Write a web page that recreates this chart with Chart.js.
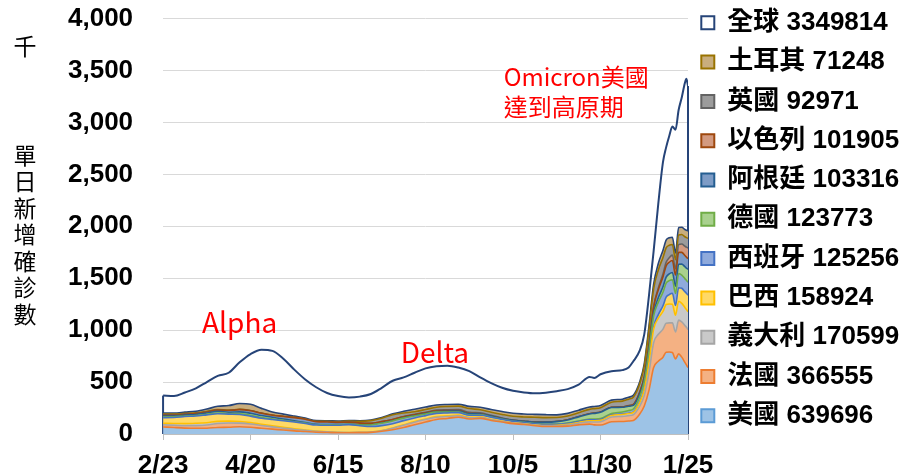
<!DOCTYPE html>
<html lang="zh-Hant">
<head>
<meta charset="utf-8">
<script src="https://cdn.jsdelivr.net/npm/chart.js@4.4.1/dist/chart.umd.min.js"></script>
<style>
  html, body { margin: 0; padding: 0; background: #fff; }
  #wrap { width: 904px; height: 476px; position: relative; }
</style>
</head>
<body>
<div id="wrap"><canvas id="chart"></canvas></div>
<script>
// days since 2021-02-23, values in thousands (7-day average)
const days = [0,7,14,21,28,35,42,49,56,63,70,77,84,91,98,105,112,119,126,133,140,147,154,161,168,175,182,189,196,203,210,217,224,231,238,245,252,259,266,273,276,280,287,294,298,301,305,308,311,314,317,320,322,324,326,328,330,332,334,335,336];

const tickDays = [0, 56, 112, 168, 224, 280, 336];
const tickLabels = ["2/23", "4/20", "6/15", "8/10", "10/5", "11/30", "1/25"];

const names = ["美國", "法國", "義大利", "巴西", "西班牙", "德國", "阿根廷", "以色列", "英國", "土耳其", "全球"];
const latest = [639696, 366555, 170599, 158924, 125256, 123773, 103316, 101905, 92971, 71248, 3349814];

const usa = [68,62,57,55,56,63,65,70,65,55,47,38,30,24,17,15,12,11.5,13,16,26,41,63,90,115,140,150,162,145,150,130,115,100,92,80,72,72,76,88,95,88,86,118,120,125,130,190,270,420,640,700,740,787,790,785,723,772,740,690,665,640];
const france = [21,22,23,26,31,38,41,35,32,27,22,18,14,11,8,5,3.5,2.5,2.2,3,5,14,21,24,24,22,18,14,10,8,6,5,4.5,4.5,5,6,7.5,10,15,22,27,32,45,50,52,55,75,100,170,240,260,270,280,280,285,260,325,340,355,362,367];
const italy = [14,17,20,22,22,21,18,15,13,12,10,8.5,6,4,3,2,1.4,0.9,0.8,0.9,1.8,3.5,5,5.5,6,6.5,6.5,6,5,4.5,3.5,3,3,2.8,3,4,4.5,6.5,8.5,10.5,12,13,15,18,20,22,35,55,95,130,155,170,180,182,180,160,182,178,174,172,171];
const brazil = [55,58,68,70,75,73,67,68,62,58,60,63,65,62,58,62,68,75,63,52,48,40,40,35,32,30,28,24,20,18,22,16,14,11,11,12,10,10,9,9,9,8,6,4,3.5,3.5,4,6,12,20,35,55,70,90,105,95,130,145,152,156,159];
const spain = [7,6,5,4.5,5,5.5,5,7.5,7.5,6.5,5.5,4.5,3.5,3.5,3.5,3.5,3.5,3.8,8,15,23,27,24,19,16,12,9,6,5,3.5,2.5,2,1.8,1.7,1.8,2,2.3,2.8,4.5,6.5,8,10,14,20,25,30,50,70,95,105,120,130,135,135,130,115,135,128,125,124,125];
const germany = [8,8.5,9,11,14,17,14,18,20,19,16,12,9,6,4,2.5,1.5,0.8,0.6,0.7,1,1.5,2,2.5,3.5,5.5,8,9.5,10,9,8,7.5,8,10,13,18,23,30,40,50,55,60,57,45,42,35,28,24,26,30,42,52,58,65,70,70,90,105,115,119,124];
const argentina = [7,7,7,7.5,9,12,16,21,24,22,20,25,30,31,25,26,22,20,17,15,14,12,12,10,8,7,5.5,4,3,2,1.6,1.3,1.2,1.1,1.2,1.3,1.5,1.7,1.8,1.9,2,2,2.5,3.5,5,8,15,25,40,55,78,98,108,112,115,108,116,113,108,105,103];
const israel = [3.8,3.5,3,2,1,0.6,0.3,0.2,0.15,0.1,0.08,0.05,0.04,0.03,0.02,0.02,0.05,0.2,0.3,0.5,0.7,1.2,2.2,3.5,5,7,8.5,9.5,10,8.5,6,4.5,3,2,1.3,0.8,0.6,0.5,0.5,0.5,0.5,0.6,0.6,0.8,1,1.3,1.8,3,5,8,15,25,35,43,52,58,73,80,90,96,102];
const uk = [9.5,7.5,6.5,5.5,5.5,4.5,3.5,2.8,2.5,2.2,2.1,2.2,2.3,2.8,3.8,6,8,10,17,26,33,45,33,25,26,28,32,33,37,30,30,34,35,39,45,42,37,35,38,42,43,42,48,55,62,70,80,100,140,170,175,160,140,120,103,90,94,92,90,92,93];
const turkey = [8.5,10,12,16,22,32,44,56,60,45,30,20,12,9,7,6,5.5,5.2,5,5.5,7,9,16,24,24,21,19,19,21,24,26,28,29,29,28,28,26,26,24,22,21,21,20,19,19,18,19,22,33,45,62,70,74,72,70,65,72,70,70,71,71];
const world = [370,365,400,440,500,560,590,690,770,812,800,725,620,525,450,395,365,352,360,385,445,513,545,590,632,652,658,640,605,545,490,445,416,400,392,398,412,432,475,550,540,575,605,615,640,700,800,960,1330,1760,2220,2620,2760,2870,2960,2930,3120,3240,3380,3420,3350];

const series = [usa, france, italy, brazil, spain, germany, argentina, israel, uk, turkey, world];

const fills = ["#9DC3E6", "#F4B183", "#C9C9C9", "#FFD966", "#8FAADC", "#A9D18E", "#7E9CC6", "#D39A80", "#9C9C9C", "#C9AE7E", "#FFFFFF"];
const edges = ["#5B9BD5", "#ED7D31", "#A5A5A5", "#FFC000", "#4472C4", "#70AD47", "#255E91", "#9E480E", "#636363", "#997300", "#264478"];

const latinFont = "'Liberation Sans', Arial, 'Noto Sans CJK TC', sans-serif";
const cjkFont = "'Noto Sans CJK TC', 'Noto Sans', sans-serif";

const notes = [
    { text: "Alpha", x: 49, y: 1075, align: "center", size: 28 },
    { text: "Delta", x: 174, y: 784, align: "center", size: 28 },
    { text: "Omicron美國", x: 218, y: 3438, align: "left", size: 24 },
    { text: "達到高原期", x: 218, y: 3148, align: "left", size: 24 }
];

const last = series.length - 1;
const datasets = series.map((vals, i) => {
    const isWorld = i === last;
    return {
        label: names[i] + " " + latest[i],
        data: vals.map((v, k) => ({ x: days[k], y: v })),
        // the visible edge on top of each band is the outline of the band above it
        borderColor: edges[Math.min(i + 1, last)],
        backgroundColor: fills[i],
        borderWidth: isWorld ? 2 : 1.6,
        fill: isWorld ? false : (i === 0 ? "origin" : "-1"),
        stack: isWorld ? "world" : "countries",
        pointRadius: 0,
        cubicInterpolationMode: "monotone"
    };
});

// side edges of the global area
const edgePlugin = {
    id: "sideEdges",
    beforeDatasetsDraw(chart) {
        const pts = chart.getDatasetMeta(last).data;
        if (!pts.length) return;
        const y0 = chart.scales.y.getPixelForValue(0);
        const ctx = chart.ctx;
        ctx.save();
        ctx.strokeStyle = edges[last];
        ctx.lineWidth = 2;
        [pts[0], pts[pts.length - 1]].forEach(p => {
            ctx.beginPath();
            ctx.moveTo(p.x, p.y);
            ctx.lineTo(p.x, y0);
            ctx.stroke();
        });
        ctx.restore();
    }
};

const textPlugin = {
    id: "texts",
    afterDraw(chart) {
        const ctx = chart.ctx;
        const { x, y } = chart.scales;
        ctx.save();
        ctx.fillStyle = "#FF0000";
        ctx.textBaseline = "middle";
        notes.forEach(n => {
            ctx.font = n.size + "px " + cjkFont;
            ctx.textAlign = n.align;
            ctx.fillText(n.text, x.getPixelForValue(n.x), y.getPixelForValue(n.y));
        });

        // y axis title
        ctx.fillStyle = "#000";
        ctx.textAlign = "center";
        ctx.font = "23px " + cjkFont;
        ctx.fillText("千", 25, 46);
        const title = "單日新增確診數";
        for (let i = 0; i < title.length; i++) {
            ctx.fillText(title[i], 25, 155 + i * 26.5);
        }
        ctx.restore();
    }
};

new Chart(document.getElementById("chart"), {
    type: "line",
    data: { datasets },
    options: {
        responsive: true,
        maintainAspectRatio: false,
        animation: false,
        devicePixelRatio: 1,
        layout: { padding: { left: 40, top: -3.5, right: 0, bottom: -16 } },
        plugins: {
            tooltip: { enabled: false },
            legend: {
                position: "right",
                align: "start",
                reverse: true,
                labels: {
                    boxWidth: 13,
                    boxHeight: 13,
                    padding: 13.3,
                    color: "#000",
                    font: { size: 26, weight: "bold", family: latinFont },
                    generateLabels: chart => chart.data.datasets.map((ds, i) => ({
                        text: ds.label,
                        fillStyle: fills[i],
                        strokeStyle: edges[i],
                        lineWidth: 2,
                        fontColor: "#000",
                        hidden: false,
                        datasetIndex: i
                    }))
                }
            }
        },
        scales: {
            x: {
                type: "linear",
                min: 0,
                max: 336,
                afterBuildTicks: axis => { axis.ticks = tickDays.map(v => ({ value: v })); },
                ticks: {
                    autoSkip: false,
                    maxRotation: 0,
                    padding: 13,
                    color: "#000",
                    font: { size: 26, weight: "bold", family: latinFont, lineHeight: 1 },
                    callback: (v, i) => tickLabels[i]
                },
                grid: { drawOnChartArea: false, drawTicks: true, tickLength: 6, color: "#BFBFBF" },
                border: { color: "#BFBFBF" }
            },
            y: {
                stacked: true,
                min: 0,
                max: 4000,
                afterFit: axis => { axis.width += 25; },
                ticks: {
                    stepSize: 500,
                    padding: 3,
                    color: "#000",
                    font: { size: 26, weight: "bold", family: latinFont }
                },
                grid: { color: "#D9D9D9", drawTicks: true, tickLength: 27, tickColor: "rgba(0,0,0,0)" },
                border: { display: false }
            }
        }
    },
    plugins: [edgePlugin, textPlugin]
});
</script>
</body>
</html>
